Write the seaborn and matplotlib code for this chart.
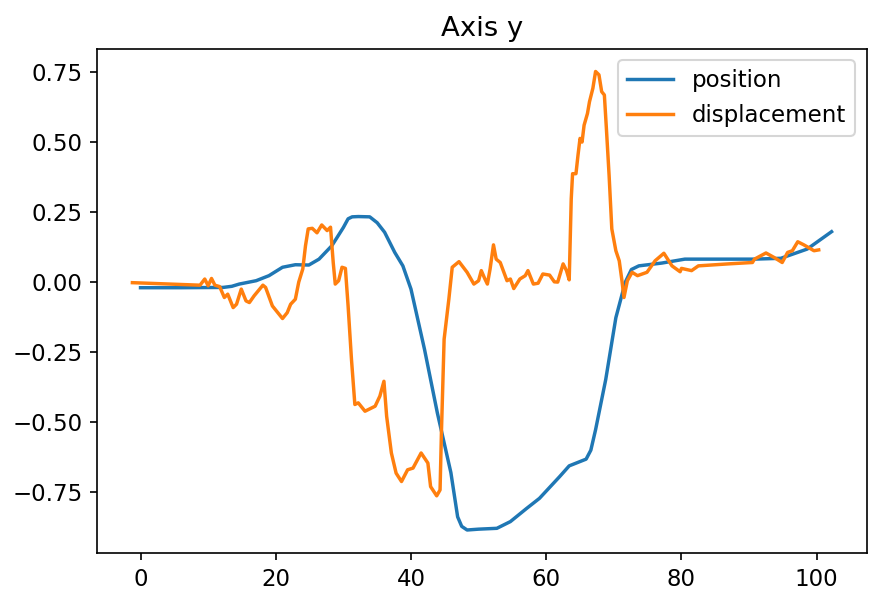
import matplotlib
matplotlib.use("Agg")
import matplotlib.pyplot as plt
import seaborn as sns
import pandas as pd

# Position trace along the y axis
pos_t = [0.0, 6.0, 12.2, 13.5, 14.6, 17.1, 19.0, 21.0, 22.9, 24.9, 26.4, 28.3,
         30.0, 30.7, 31.3, 32.2, 33.9, 35.0, 36.1, 37.6, 38.8, 40.0, 42.0,
         43.9, 45.9, 46.9, 47.5, 48.3, 50.0, 52.7, 54.7, 57.1, 59.0, 62.0,
         63.4, 65.9, 66.6, 67.3, 68.8, 70.3, 71.7, 72.6, 73.7, 77.1, 80.5,
         85.0, 90.8, 94.7, 98.6, 102.2]
pos_y = [-0.02, -0.02, -0.019, -0.015, -0.007, 0.005, 0.023, 0.053, 0.062, 0.061,
         0.082, 0.13, 0.195, 0.226, 0.233, 0.234, 0.233, 0.212, 0.178, 0.106,
         0.058, -0.025, -0.24, -0.467, -0.68, -0.838, -0.872, -0.885, -0.882,
         -0.879, -0.855, -0.808, -0.772, -0.694, -0.656, -0.632, -0.6, -0.527,
         -0.348, -0.127, 0.0, 0.045, 0.058, 0.068, 0.082, 0.082, 0.082, 0.085,
         0.118, 0.18]

# Displacement trace along the y axis
disp_t = [-1.2, 2.0, 5.0, 8.8, 9.5, 10.0, 10.5, 11.0, 11.7, 12.4, 12.9, 13.7,
          14.2, 14.9, 15.6, 16.1, 16.8, 18.1, 18.5, 19.5, 20.5, 21.0, 21.7,
          22.2, 22.9, 23.4, 24.0, 24.4, 24.8, 25.4, 26.1, 26.8, 27.6, 28.1,
          28.5, 28.8, 29.3, 29.8, 30.3, 30.7, 31.2, 31.7, 32.2, 33.2, 34.7,
          35.4, 36.0, 36.4, 37.1, 37.8, 38.6, 39.5, 40.3, 41.5, 42.5, 42.9,
          43.8, 44.3, 44.5, 44.9, 45.6, 46.1, 47.1, 48.3, 49.3, 50.0, 50.4,
          50.9, 51.3, 51.7, 52.2, 52.6, 53.2, 54.2, 54.7, 55.2, 56.1, 56.9,
          57.3, 58.1, 58.8, 59.5, 60.5, 61.2, 61.7, 62.5, 63.0, 63.4, 63.7,
          63.9, 64.4, 64.7, 65.0, 65.3, 65.6, 66.1, 66.4, 66.9, 67.3, 67.8,
          68.2, 68.6, 68.9, 69.3, 69.7, 70.3, 70.8, 71.2, 71.5, 72.0, 72.7,
          73.5, 74.9, 76.1, 77.4, 78.6, 79.8, 80.0, 81.5, 82.5, 86.9, 90.5,
          90.8, 92.5, 93.7, 94.9, 95.7, 96.4, 97.2, 98.1, 99.6, 100.3]
disp_y = [-0.002, -0.005, -0.008, -0.011, 0.011, -0.013, 0.013, -0.011, -0.016,
          -0.055, -0.043, -0.091, -0.079, -0.025, -0.067, -0.073, -0.049,
          -0.011, -0.019, -0.085, -0.115, -0.13, -0.109, -0.079, -0.061, 0.0,
          0.047, 0.13, 0.19, 0.192, 0.176, 0.204, 0.184, 0.196, 0.07, -0.007,
          0.005, 0.053, 0.049, -0.085, -0.276, -0.437, -0.431, -0.461, -0.443,
          -0.407, -0.354, -0.479, -0.61, -0.682, -0.712, -0.67, -0.664, -0.61,
          -0.646, -0.73, -0.763, -0.742, -0.539, -0.204, -0.061, 0.053, 0.073,
          0.035, -0.007, 0.005, 0.041, 0.013, -0.007, 0.047, 0.133, 0.082, 0.07,
          0.005, 0.011, -0.023, 0.011, 0.023, 0.041, -0.007, -0.004, 0.029,
          0.025, 0.001, 0.0, 0.065, 0.041, 0.008, 0.297, 0.387, 0.387, 0.453,
          0.513, 0.5, 0.56, 0.602, 0.644, 0.692, 0.752, 0.74, 0.68, 0.668,
          0.548, 0.381, 0.19, 0.112, 0.076, 0.005, -0.055, 0.005, 0.035, 0.023,
          0.035, 0.076, 0.103, 0.058, 0.037, 0.049, 0.041, 0.058, 0.065, 0.07,
          0.082, 0.104, 0.088, 0.07, 0.106, 0.112, 0.144, 0.133, 0.112, 0.115]

pos_df = pd.DataFrame({"t": pos_t, "v": pos_y})
disp_df = pd.DataFrame({"t": disp_t, "v": disp_y})

fig, ax = plt.subplots(figsize=(5.8, 3.9467), dpi=150)
fig.subplots_adjust(left=0.112, right=0.996, top=0.918, bottom=0.066)

sns.lineplot(data=pos_df, x="t", y="v", ax=ax, color="#1f77b4", linewidth=1.65,
             label="position", sort=False, estimator=None)
sns.lineplot(data=disp_df, x="t", y="v", ax=ax, color="#ff7f0e", linewidth=1.65,
             label="displacement", sort=False, estimator=None)

ax.set_title("Axis y", fontsize=13.2)
ax.set_xlabel("")
ax.set_ylabel("")
ax.set_xticks([0, 20, 40, 60, 80, 100])
ax.set_yticks([-0.75, -0.5, -0.25, 0.0, 0.25, 0.5, 0.75])
ax.tick_params(labelsize=11)
ax.legend(loc="upper right", fontsize=11)

fig.savefig("out.png", dpi=150)
